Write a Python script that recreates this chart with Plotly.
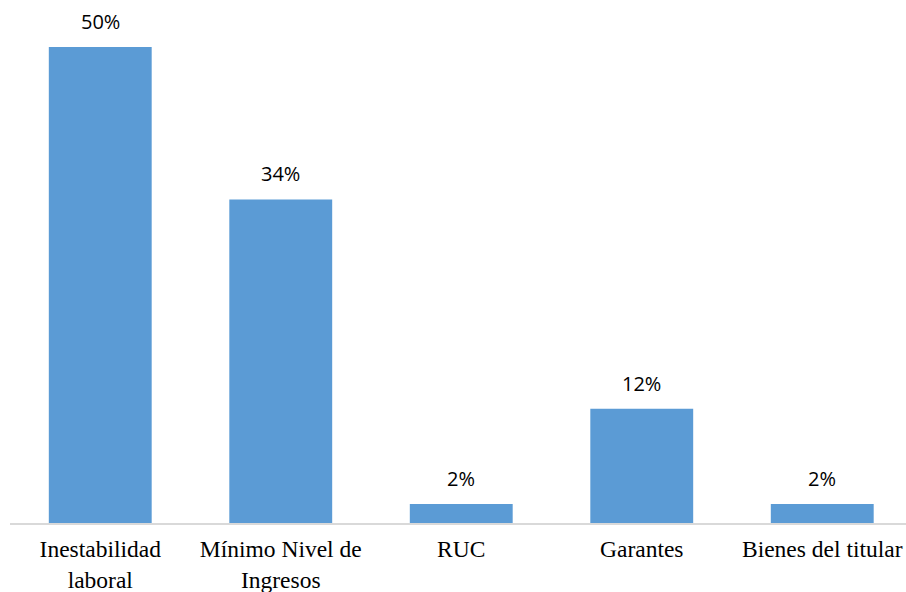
import plotly.graph_objects as go

categories = ["Inestabilidad<br>laboral", "Mínimo Nivel de<br>Ingresos", "RUC", "Garantes", "Bienes del titular"]
values = [50, 34, 2, 12, 2]
labels = ["50%", "34%", "2%", "12%", "2%"]

xs = list(range(len(categories)))

fig = go.Figure()
fig.add_trace(go.Bar(x=xs, y=values, width=0.57, marker=dict(color="#5b9bd5", line=dict(width=0)),
                     hoverinfo="skip"))

for x, v, t in zip(xs, values, labels):
    fig.add_annotation(x=x, y=v, text=t, showarrow=False, yanchor="bottom", yshift=10,
                       font=dict(family="Open Sans", size=20, color="#000000"))

fig.update_layout(
    width=906, height=592,
    margin=dict(l=10, r=0, t=0, b=69),
    paper_bgcolor="white", plot_bgcolor="white",
    showlegend=False,
    xaxis=dict(range=[-0.5, 4.464], tickmode="array", tickvals=xs, ticktext=categories,
               showgrid=False, zeroline=False, showline=True, linecolor="#d9d9d9", linewidth=2,
               ticks="", ticklabelstandoff=4,
               tickfont=dict(family="Liberation Serif", size=23.5, color="#000000"),
               fixedrange=True),
    yaxis=dict(range=[0, 54.95], visible=False, showgrid=False, zeroline=False, fixedrange=True),
)

fig.write_html("out.html", config={"displayModeBar": False},
               post_script="document.body.style.margin='0';document.body.style.padding='0';")
